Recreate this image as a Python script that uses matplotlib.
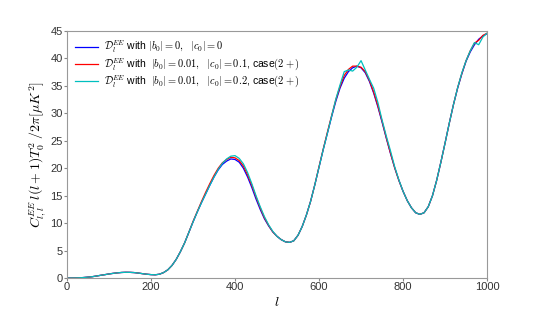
import matplotlib
matplotlib.use('Agg')
from matplotlib import pyplot as plt
import numpy as np

# multipole grid (step 10) and EE spectra
ell = np.arange(0, 1001, 10)

# |b0|=0, |c0|=0
ee_base = [0, 0.01, 0.02, 0.05, 0.1, 0.17, 0.25, 0.37, 0.5, 0.62,
           0.75, 0.86, 0.95, 1.02, 1.05, 1.04, 1.0, 0.91, 0.8, 0.7,
           0.63, 0.6, 0.7, 1.0, 1.5, 2.3, 3.4, 4.8, 6.4, 8.3,
           10.2, 12.0, 13.7, 15.3, 16.9, 18.4, 19.7, 20.7, 21.3, 21.7,
           21.6, 21.1, 20.0, 18.4, 16.5, 14.4, 12.5, 10.8, 9.5, 8.4,
           7.6, 7.0, 6.6, 6.5, 6.8, 7.8, 9.4, 11.5, 14.0, 17.0,
           20.2, 23.4, 26.4, 29.4, 32.2, 34.6, 36.4, 37.6, 38.3, 38.6,
           38.3, 37.4, 35.8, 33.7, 31.2, 28.4, 25.5, 22.7, 20.1, 17.8,
           15.8, 14.1, 12.8, 11.9, 11.6, 11.9, 13.0, 15.0, 17.8, 21.1,
           24.6, 28.2, 31.6, 34.6, 37.2, 39.5, 41.2, 42.5, 43.5, 44.1,
           44.5]

# |b0|=0.01, |c0|=0.1, case(2+)
ee_red = [0, 0.01, 0.02, 0.05, 0.1, 0.17, 0.25, 0.37, 0.5, 0.62,
          0.75, 0.86, 0.95, 1.02, 1.05, 1.04, 1.0, 0.91, 0.8, 0.7,
          0.63, 0.6, 0.7, 1.0, 1.5, 2.3, 3.4, 4.8, 6.4, 8.3,
          10.3, 12.1, 13.9, 15.6, 17.2, 18.7, 20.0, 21.0, 21.6, 22.0,
          21.9, 21.4, 20.4, 18.8, 16.9, 14.8, 12.8, 11.0, 9.6, 8.4,
          7.6, 7.0, 6.6, 6.5, 6.8, 7.8, 9.4, 11.5, 14.0, 17.0,
          20.3, 23.5, 26.6, 29.6, 32.5, 34.9, 36.9, 38.0, 38.6, 38.6,
          38.4, 37.6, 36.0, 33.9, 31.4, 28.6, 25.6, 22.8, 20.1, 17.8,
          15.8, 14.1, 12.8, 11.9, 11.6, 11.9, 13.0, 15.0, 17.8, 21.1,
          24.6, 28.2, 31.6, 34.7, 37.3, 39.6, 41.4, 42.8, 43.3, 44.2,
          44.6]

# |b0|=0.01, |c0|=0.2, case(2+)
ee_cyan = [0, 0.01, 0.02, 0.05, 0.1, 0.17, 0.25, 0.37, 0.5, 0.62,
           0.75, 0.86, 0.95, 1.02, 1.05, 1.04, 1.0, 0.91, 0.8, 0.7,
           0.63, 0.6, 0.7, 1.0, 1.5, 2.3, 3.4, 4.8, 6.4, 8.3,
           10.2, 12.0, 13.7, 15.3, 16.9, 18.4, 19.8, 20.9, 21.7, 22.2,
           22.3, 21.8, 20.8, 19.2, 17.2, 15.0, 13.0, 11.2, 9.7, 8.5,
           7.6, 7.0, 6.6, 6.5, 6.8, 7.8, 9.4, 11.5, 14.0, 17.0,
           20.2, 23.4, 26.4, 29.5, 32.6, 35.2, 37.6, 37.9, 37.7, 38.4,
           39.6, 37.9, 36.2, 34.6, 32.0, 28.8, 25.9, 23.2, 20.3, 17.9,
           15.8, 14.1, 12.8, 11.9, 11.6, 11.9, 13.0, 15.0, 17.8, 21.1,
           24.6, 28.2, 31.6, 34.7, 37.4, 39.6, 41.4, 42.9, 42.5, 43.9,
           44.6]

labels = [r'$\mathcal{D}_l^{EE}$ with $|b_0|=0,\ \ |c_0|=0$',
          r'$\mathcal{D}_l^{EE}$ with  $|b_0|=0.01,\ \ |c_0|=0.1$, case$(2+)$',
          r'$\mathcal{D}_l^{EE}$ with  $|b_0|=0.01,\ \ |c_0|=0.2$, case$(2+)$']

plt.rcParams['font.family'] = ['Liberation Sans', 'DejaVu Sans']
plt.rcParams['mathtext.fontset'] = 'cm'

f = plt.figure(figsize=(5.4, 3.1), dpi=100)
ax = f.add_axes([0.124, 0.103, 0.778, 0.797])

ax.plot(ell, ee_base, color='b', lw=0.9, label=labels[0])
ax.plot(ell, ee_red, color='r', lw=0.9, label=labels[1])
ax.plot(ell, ee_cyan, color='c', lw=0.9, label=labels[2])

ax.set_xlim(0, 1000)
ax.set_ylim(0, 45)
ax.set_xticks([0, 200, 400, 600, 800, 1000])
ax.set_yticks(range(0, 50, 5))
ax.tick_params(axis='both', labelsize=8, length=2, color='#888888',
               labelcolor='#333333', pad=1)
for s in ax.spines.values():
    s.set_color('#999999')

ax.set_xlabel(r'$l$', fontsize=10, labelpad=2)
ax.set_ylabel(r'$C_{l,l}^{EE}\, l(l+1)T_0^2\ /2\pi[\mu K^2]$', fontsize=10,
              labelpad=2)

ax.legend(loc='upper left', fontsize=7.5, frameon=False, handlelength=2.2,
          labelspacing=0.12, borderaxespad=0.4, handletextpad=0.6)

plt.savefig('out.png', dpi=100)
